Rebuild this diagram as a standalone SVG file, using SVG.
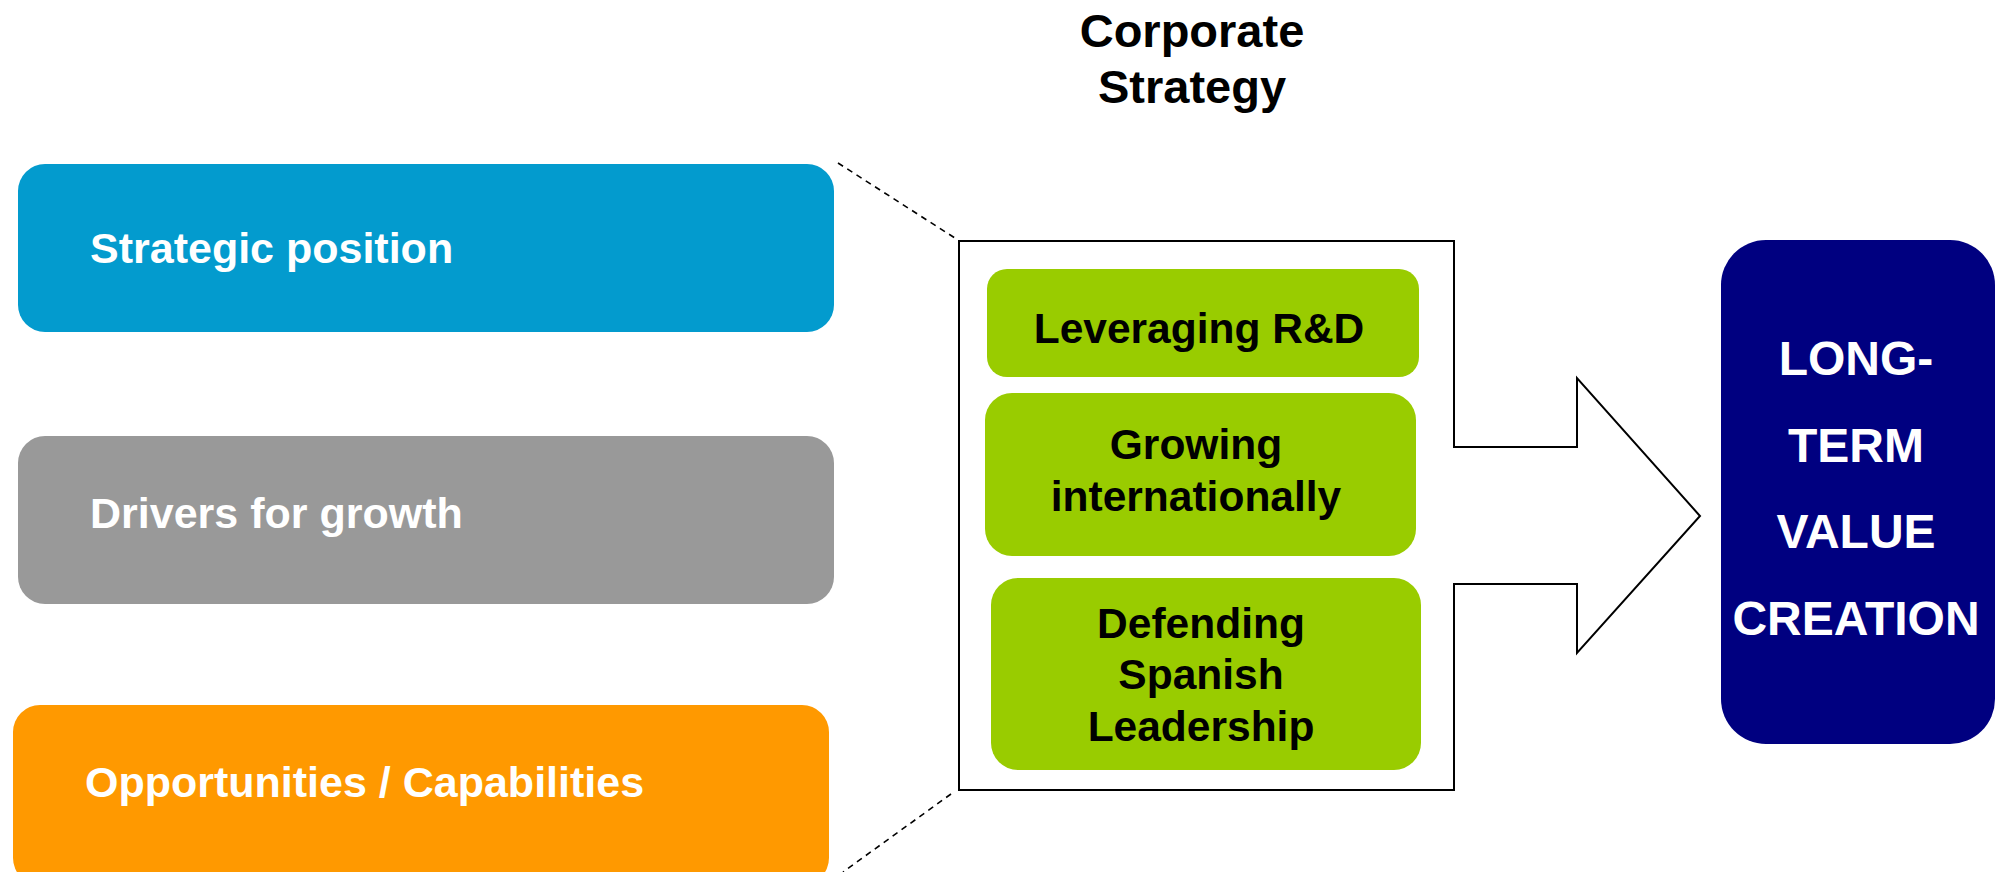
<svg xmlns="http://www.w3.org/2000/svg" width="2002" height="872" viewBox="0 0 2002 872">
<style>
text{font-family:"Liberation Sans",Arial,sans-serif;font-weight:bold}
.w{fill:#ffffff;font-size:43px}
.k{fill:#000000;font-size:42.5px;text-anchor:middle}
.t{fill:#000000;font-size:47px;text-anchor:middle}
.v{fill:#ffffff;font-size:48px;text-anchor:middle}
.dash{fill:none;stroke:#000;stroke-width:1.6;stroke-dasharray:6 5}
</style>
<rect width="2002" height="872" fill="#ffffff"/>
<g id="title">
<text class="t" x="1192" y="47">Corporate</text>
<text class="t" x="1192" y="103">Strategy</text>
</g>
<g id="connectors">
<line class="dash" x1="838" y1="163" x2="958" y2="240"/>
<line class="dash" x1="951" y1="794" x2="843" y2="872"/>
</g>
<g id="strategy-arrow">
<path d="M959,241 H1454 V447 H1577 V378 L1700,516 L1577,653 V584 H1454 V790 H959 Z" fill="#ffffff" stroke="#000" stroke-width="2" stroke-linejoin="miter"/>
</g>
<g id="strategic-position">
<rect x="18" y="164" width="816" height="168" rx="27" fill="#039BCE"/>
<text class="w" x="90" y="263">Strategic position</text>
</g>
<g id="drivers-for-growth">
<rect x="18" y="436" width="816" height="168" rx="27" fill="#999999"/>
<text class="w" x="90" y="528">Drivers for growth</text>
</g>
<g id="opportunities-capabilities">
<rect x="13" y="705" width="816" height="180" rx="27" fill="#FF9900"/>
<text class="w" x="85" y="797">Opportunities / Capabilities</text>
</g>
<g id="leveraging-rd">
<rect x="987" y="269" width="432" height="108" rx="20" fill="#99CC00"/>
<text class="k" x="1199" y="343">Leveraging R&amp;D</text>
</g>
<g id="growing-internationally">
<rect x="985" y="393" width="431" height="163" rx="27" fill="#99CC00"/>
<text class="k" x="1196" y="459">Growing</text>
<text class="k" x="1196" y="511">internationally</text>
</g>
<g id="defending-spanish-leadership">
<rect x="991" y="578" width="430" height="192" rx="27" fill="#99CC00"/>
<text class="k" x="1201" y="638">Defending</text>
<text class="k" x="1201" y="689">Spanish</text>
<text class="k" x="1201" y="741">Leadership</text>
</g>
<g id="long-term-value-creation">
<rect x="1721" y="240" width="274" height="504" rx="45" fill="#000080"/>
<text class="v" x="1856" y="375">LONG-</text>
<text class="v" x="1856" y="462">TERM</text>
<text class="v" x="1856" y="548">VALUE</text>
<text class="v" x="1856" y="635">CREATION</text>
</g>
</svg>
